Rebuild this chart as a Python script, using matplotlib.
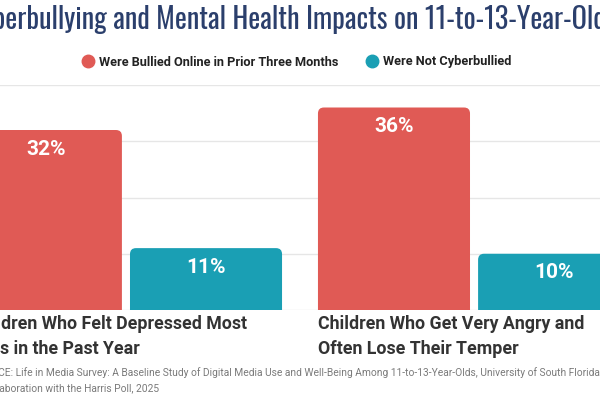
import matplotlib
matplotlib.use("Agg")
import matplotlib.pyplot as plt
import matplotlib.transforms as mtransforms
from matplotlib.patches import FancyBboxPatch
from matplotlib.lines import Line2D
from matplotlib import font_manager

# data
categories = [
    ["Children Who Felt Depressed Most", "Days in the Past Year"],
    ["Children Who Get Very Angry and", "Often Lose Their Temper"],
]
series_names = ["Were Bullied Online in Prior Three Months", "Were Not Cyberbullied"]
bullied = [32, 36]
not_bullied = [11, 10]
y_ticks = [0, 10, 20, 30, 40]
title = "Cyberbullying and Mental Health Impacts on 11-to-13-Year-Olds"
source = [
    "SOURCE: Life in Media Survey: A Baseline Study of Digital Media Use and Well-Being "
    "Among 11-to-13-Year-Olds, University of South Florida in",
    "In collaboration with the Harris Poll, 2025",
]

RED = "#E05A55"
TEAL = "#1A9FB4"
NAVY = "#2B3F6C"

names = {f.name for f in font_manager.fontManager.ttflist}
title_font = next((n for n in ["Oswald", "Roboto Condensed", "Liberation Sans Narrow"]
                   if n in names), "Roboto")
body_font = "Roboto"

fig = plt.figure(figsize=(6, 4), dpi=100)
fig.patch.set_facecolor("white")
# plot area runs a bit past both sides of the picture (the chart is cropped)
ax = fig.add_axes([-0.05, 0.225, 1.1, 0.5625])

x = [0, 1]
off = 0.23
w = 0.4368
bars1 = ax.bar([i - off for i in x], bullied, w, color=RED)
bars2 = ax.bar([i + off for i in x], not_bullied, w, color=TEAL)

ax.set_xlim(-0.448, 1.448)
ax.set_ylim(0, 40)
ax.set_yticks(y_ticks)
ax.grid(axis="y", color="#E6E6E6", linewidth=1)
ax.set_axisbelow(True)
ax.tick_params(left=False, bottom=False, labelleft=False, labelbottom=False)
for s in ax.spines.values():
    s.set_visible(False)

# swap the plain bars for ones with rounded tops
for bars in (bars1, bars2):
    for r in bars:
        bx, bw, bh = r.get_x(), r.get_width(), r.get_height()
        col = r.get_facecolor()
        r.set_visible(False)
        p = FancyBboxPatch((bx, -3), bw, bh + 3,
                           boxstyle="round,pad=0,rounding_size=0.0172",
                           mutation_aspect=62, facecolor=col, edgecolor="none",
                           zorder=2)
        ax.add_patch(p)
        ax.annotate(f"{bh:.0f}%", xy=(bx + bw / 2, bh), xytext=(0, -13.7),
                    textcoords="offset points", ha="center", va="center",
                    color="white", fontsize=15, fontweight="bold",
                    family=body_font, zorder=3)

# category labels under each group
tr = mtransforms.blended_transform_factory(ax.transData, fig.transFigure)
for i, lines in enumerate(categories):
    left = x[i] - off - w / 2
    for j, line in enumerate(lines):
        ax.text(left, 1 - (324 + 24.5 * j) / 400, line, transform=tr,
                ha="left", va="center", fontsize=12.8, fontweight="bold",
                color="#333333", family=body_font)

# source
for j, line in enumerate(source):
    ax.text(x[0] - off - w / 2 + 0.006, 1 - (373 + 15.5 * j) / 400, line,
            transform=tr, ha="left", va="center", fontsize=7.4, color="#7A7A7A",
            family=body_font)

# legend
handles = [Line2D([], [], marker="o", ls="", ms=9, color=c) for c in (RED, TEAL)]
fig.legend(handles, series_names, loc="center", bbox_to_anchor=(0.495, 1 - 62 / 400),
           ncol=2, frameon=False, handlelength=0.8, handletextpad=0.5,
           columnspacing=2.2,
           prop=dict(family=body_font, weight="bold", size=9.2))
for t in fig.legends[0].get_texts():
    t.set_color("#222222")

# title, sized so the whole line is about 650 px wide
tt = fig.text(292 / 600, 1 - 29 / 400, title, ha="center", va="baseline",
              fontsize=20, color=NAVY, family=title_font)
fig.canvas.draw()
width = tt.get_window_extent().width
tt.set_fontsize(20 * 650 / width)

fig.savefig("out.png", dpi=100, facecolor="white")
